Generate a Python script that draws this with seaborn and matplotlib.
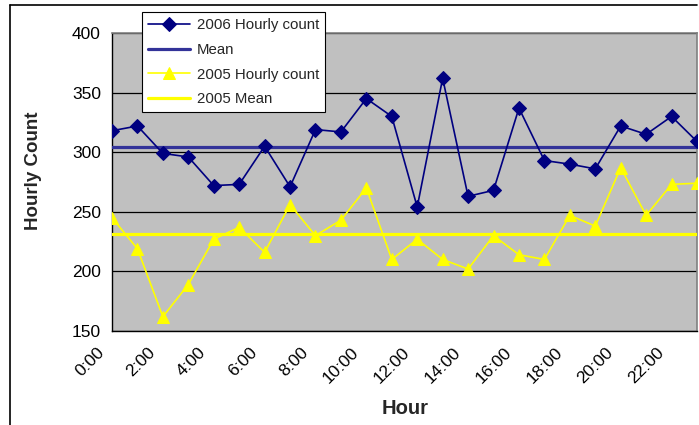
import numpy as np
import pandas as pd
import matplotlib
matplotlib.use("Agg")
import matplotlib.pyplot as plt
import matplotlib.transforms as mtransforms
from matplotlib.lines import Line2D
import seaborn as sns

# ---- data ----
hours = list(range(24))
hour_labels = [f"{h}:00" for h in hours]
count_2006 = [318, 322, 299, 296, 272, 273, 305, 271, 319, 317, 345, 330,
              254, 362, 263, 268, 337, 293, 290, 286, 322, 315, 330, 309]
count_2005 = [245, 219, 162, 189, 227, 237, 216, 256, 230, 243, 270, 210,
              227, 210, 202, 230, 214, 210, 247, 238, 287, 247, 273, 274]
mean_2006 = float(np.mean(count_2006))
mean_2005 = float(np.mean(count_2005))

sns.set_style("white")
plt.rcParams["font.family"] = ["Liberation Sans", "DejaVu Sans"]

fig = plt.figure(figsize=(6.99, 4.25), dpi=100)
ax = fig.add_axes([112 / 699, 1 - 331 / 425, (697 - 112) / 699, (331 - 33) / 425])
ax.set_facecolor("#C0C0C0")

df = pd.DataFrame({"hour": hours, "c2006": count_2006, "c2005": count_2005})

sns.lineplot(data=df, x="hour", y="c2006", ax=ax, color="#000080", linewidth=1.2,
             marker="D", markersize=7, markeredgecolor="#000080",
             label="2006 Hourly count", zorder=4)
ax.axhline(mean_2006, color="#333399", linewidth=2.3, label="Mean", zorder=3)
sns.lineplot(data=df, x="hour", y="c2005", ax=ax, color="#FFFF00", linewidth=1.2,
             marker="^", markersize=8.5, markeredgecolor="#FFFF00",
             label="2005 Hourly count", zorder=4)
ax.axhline(mean_2005, color="#FFFF00", linewidth=2.3, label="2005 Mean", zorder=3)

ax.set_xlim(0, 23)
ax.set_ylim(150, 400)
ax.set_yticks([150, 200, 250, 300, 350, 400])
ax.set_xticks(hours)
ax.set_xticklabels([lab if h % 2 == 0 else "" for h, lab in zip(hours, hour_labels)])

ax.yaxis.grid(True, color="black", linewidth=0.9)
ax.set_axisbelow(True)

for s in ["left", "bottom"]:
    ax.spines[s].set_color("black")
    ax.spines[s].set_linewidth(1.0)
for s in ["top", "right"]:
    ax.spines[s].set_color("#808080")
    ax.spines[s].set_linewidth(1.2)

ax.tick_params(axis="both", which="major", direction="out", length=5, width=1,
               color="black", labelsize=12.5, labelcolor="black")
ax.tick_params(axis="y", pad=3)
ax.tick_params(axis="x", pad=9)

offset = mtransforms.ScaledTranslation(-10 / 100, 0, fig.dpi_scale_trans)
for lab in ax.get_xticklabels():
    lab.set_rotation(45)
    lab.set_ha("right")
    lab.set_va("center")
    lab.set_rotation_mode("anchor")
    lab.set_transform(lab.get_transform() + offset)

ax.set_xlabel("")
ax.set_ylabel("")
fig.text(405 / 699, 1 - 409 / 425, "Hour", ha="center", va="center",
         fontsize=14.5, fontweight="bold")
fig.text(33 / 699, 1 - 171 / 425, "Hourly Count", ha="center", va="center",
         rotation=90, fontsize=13.5, fontweight="bold")

leg = ax.legend(loc="upper left", bbox_to_anchor=(142 / 699, 1 - 12 / 425),
                bbox_transform=fig.transFigure, frameon=True, fancybox=False,
                framealpha=1, edgecolor="black", fontsize=10.8,
                handlelength=2.8, labelspacing=0.72, borderpad=0.4,
                handletextpad=0.45, borderaxespad=0)
leg.get_frame().set_linewidth(0.8)
leg.set_zorder(10)

# outer chart border (top and left edges visible)
fig.add_artist(Line2D([10 / 699, 697 / 699], [1 - 5 / 425, 1 - 5 / 425],
                      transform=fig.transFigure, color="black", linewidth=1.2))
fig.add_artist(Line2D([10 / 699, 10 / 699], [1 - 5 / 425, 0],
                      transform=fig.transFigure, color="black", linewidth=1.2))

fig.savefig("out.png", dpi=100)
